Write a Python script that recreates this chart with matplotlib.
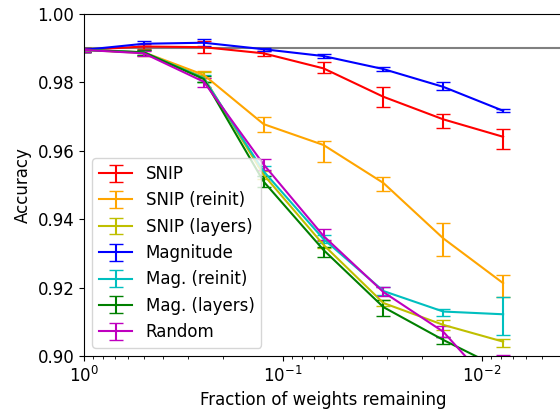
import numpy as np
import matplotlib
matplotlib.use("Agg")
import matplotlib.pyplot as plt


# --------------------------------------------------------
#  Data
# --------------------------------------------------------

fraction = [1, 1 / 2, 1 / 4, 1 / 8, 1 / 16, 1 / 32, 1 / 64, 1 / 128]

labels = ["SNIP", "SNIP (reinit)", "SNIP (layers)", "Magnitude",
          "Mag. (reinit)", "Mag. (layers)", "Random"]
colors = ["r", "orange", "y", "b", "c", "g", "m"]

snip        = [0.9895, 0.9905, 0.9903, 0.9885, 0.9841, 0.9758, 0.9692, 0.9641]
snip_lo     = [0.0005, 0.0008, 0.0018, 0.0007, 0.0013, 0.0031, 0.0026, 0.0037]
snip_hi     = [0.0005, 0.0008, 0.0018, 0.0007, 0.0020, 0.0029, 0.0016, 0.0022]

snip_reinit    = [0.9895, 0.9888, 0.9822, 0.9678, 0.9617, 0.9506, 0.9344, 0.9213]
snip_reinit_lo = [0.0005, 0.0008, 0.0010, 0.0022, 0.0049, 0.0024, 0.0051, 0.0040]
snip_reinit_hi = [0.0005, 0.0008, 0.0010, 0.0020, 0.0013, 0.0018, 0.0046, 0.0024]

snip_layers    = [0.9895, 0.9886, 0.9815, 0.9530, 0.9325, 0.9155, 0.9091, 0.9042]
snip_layers_lo = [0.0005, 0.0010, 0.0015, 0.0012, 0.0010, 0.0010, 0.0014, 0.0015]
snip_layers_hi = [0.0005, 0.0010, 0.0015, 0.0012, 0.0010, 0.0010, 0.0015, 0.0007]

magnitude    = [0.9895, 0.9913, 0.9916, 0.9897, 0.9877, 0.9839, 0.9787, 0.9717]
magnitude_lo = [0.0005, 0.0008, 0.0010, 0.0004, 0.0005, 0.0006, 0.0009, 0.0005]
magnitude_hi = [0.0005, 0.0008, 0.0010, 0.0004, 0.0005, 0.0006, 0.0015, 0.0005]

mag_reinit    = [0.9895, 0.9888, 0.9812, 0.9540, 0.9342, 0.9190, 0.9130, 0.9122]
mag_reinit_lo = [0.0005, 0.0008, 0.0010, 0.0015, 0.0012, 0.0012, 0.0013, 0.0061]
mag_reinit_hi = [0.0005, 0.0008, 0.0010, 0.0015, 0.0012, 0.0012, 0.0008, 0.0051]

mag_layers    = [0.9895, 0.9888, 0.9810, 0.9510, 0.9310, 0.9143, 0.9047, 0.8960]
mag_layers_lo = [0.0005, 0.0008, 0.0010, 0.0015, 0.0020, 0.0025, 0.0012, 0.0020]
mag_layers_hi = [0.0005, 0.0008, 0.0010, 0.0015, 0.0010, 0.0021, 0.0010, 0.0020]

random    = [0.9895, 0.9885, 0.9802, 0.9560, 0.9351, 0.9187, 0.9071, 0.8877]
random_lo = [0.0005, 0.0008, 0.0015, 0.0015, 0.0012, 0.0012, 0.0015, 0.0100]
random_hi = [0.0005, 0.0008, 0.0010, 0.0015, 0.0020, 0.0015, 0.0018, 0.0126]

baseline = 0.99


# --------------------------------------------------------
#  Plot
# --------------------------------------------------------

plt.rcParams["font.size"] = 12

series = [
    (snip, snip_lo, snip_hi),
    (snip_reinit, snip_reinit_lo, snip_reinit_hi),
    (snip_layers, snip_layers_lo, snip_layers_hi),
    (magnitude, magnitude_lo, magnitude_hi),
    (mag_reinit, mag_reinit_lo, mag_reinit_hi),
    (mag_layers, mag_layers_lo, mag_layers_hi),
    (random, random_lo, random_hi),
]

fig = plt.figure(figsize=(5.6, 4.13), dpi=100)
# axes run slightly past the right edge, as in the cropped original
ax = fig.add_axes([84 / 560, 57 / 413, 479 / 560, 342 / 413])

ax.axhline(baseline, color="gray", linewidth=1.5)

for (vals, lo, hi), lab, col in zip(series, labels, colors):
    ax.errorbar(fraction, vals, yerr=[lo, hi], color=col, label=lab,
                capsize=5, linewidth=1.5)

ax.set_xscale("log")
ax.set_xlim(1, 1 / 256)
ax.set_ylim(0.90, 1.00)
ax.set_yticks(np.arange(0.90, 1.001, 0.02))
ax.set_xlabel("Fraction of weights remaining")
ax.set_ylabel("Accuracy")
ax.legend(loc="lower left")

fig.savefig("out.png", dpi=100)
